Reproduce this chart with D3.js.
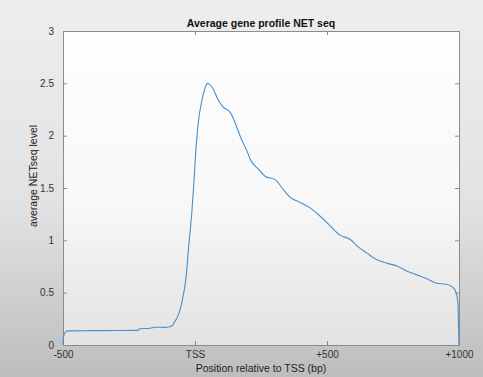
<!DOCTYPE html>
<style>
  html, body { margin: 0; padding: 0; }
  body { width: 483px; height: 377px; overflow: hidden; }
  svg { display: block; font-family: "Liberation Sans", Arial, sans-serif; }
</style>
<body>
</body>
<script src="https://cdn.jsdelivr.net/npm/d3@7/dist/d3.min.js"></script>
<script>
  // position relative to TSS (bp) and average NET-seq level
  const pos = [-500, -499, -496, -490, -480, -400, -300, -215, -210, -170, -150, -120, -95,
    -84, -80, -70, -60, -54, -45, -35, -24, -12, -5, 3, 14, 25, 40, 48, 55, 66, 86, 104, 134, 146,
    172, 199, 210, 240, 267, 304, 330, 361, 400, 436, 470, 500, 549, 587, 617, 650, 693, 730, 769,
    800, 840, 880, 916, 950, 965, 984, 991, 996, 998, 1000];
  const level = [0, 0.06, 0.10, 0.125, 0.135, 0.137, 0.138, 0.14, 0.155, 0.16, 0.17, 0.168, 0.175,
    0.19, 0.21, 0.25, 0.31, 0.36, 0.47, 0.62, 0.94, 1.27, 1.52, 1.85, 2.16, 2.32, 2.47, 2.50, 2.49,
    2.46, 2.35, 2.28, 2.22, 2.16, 1.99, 1.84, 1.77, 1.68, 1.61, 1.58, 1.50, 1.41, 1.36, 1.31, 1.24,
    1.17, 1.05, 1.01, 0.94, 0.88, 0.81, 0.78, 0.75, 0.71, 0.67, 0.63, 0.59, 0.58, 0.57, 0.53, 0.48,
    0.40, 0.2, 0];

  const xTicks = [-500, 0, 500, 1000];
  const xTickLabels = ['-500', 'TSS', '+500', '+1000'];
  const yTicks = [0, 0.5, 1, 1.5, 2, 2.5, 3];

  const W = 483, H = 377;
  const l = 63, r = 459, t = 31, b = 345;

  const svg = d3.select('body').append('svg')
    .attr('width', W)
    .attr('height', H);

  const defs = svg.append('defs');
  const bg = defs.append('linearGradient').attr('id', 'bg')
    .attr('x1', 0).attr('y1', 0).attr('x2', 0).attr('y2', 1);
  bg.append('stop').attr('offset', '0%').attr('stop-color', '#eeeeee');
  bg.append('stop').attr('offset', '55%').attr('stop-color', '#e2e2e2');
  bg.append('stop').attr('offset', '100%').attr('stop-color', '#bdbdbd');
  const pg = defs.append('linearGradient').attr('id', 'pg')
    .attr('x1', 0).attr('y1', 0).attr('x2', 0).attr('y2', 1);
  pg.append('stop').attr('offset', '0%').attr('stop-color', '#fefefe');
  pg.append('stop').attr('offset', '55%').attr('stop-color', '#f8f8f8');
  pg.append('stop').attr('offset', '100%').attr('stop-color', '#e2e2e2');

  svg.append('rect').attr('width', W).attr('height', H).attr('fill', 'url(#bg)');
  svg.append('rect').attr('x', l).attr('y', t).attr('width', r - l).attr('height', b - t)
    .attr('fill', 'url(#pg)');

  const x = d3.scaleLinear().domain([-500, 1000]).range([l, r]);
  const y = d3.scaleLinear().domain([0, 3]).range([b, t]);

  const axisColor = '#8c8c8c';
  function styleAxis(g) {
    g.select('.domain').remove();
    g.selectAll('.tick line').attr('stroke', axisColor);
    g.selectAll('.tick text').attr('fill', '#333').style('font-size', '10px');
  }

  // bottom
  svg.append('g')
    .attr('transform', `translate(0,${b})`)
    .call(d3.axisBottom(x).tickValues(xTicks).tickSizeInner(-4).tickSizeOuter(0)
      .tickPadding(6).tickFormat((d, i) => xTickLabels[i]))
    .call(styleAxis);
  // top
  svg.append('g')
    .attr('transform', `translate(0,${t})`)
    .call(d3.axisTop(x).tickValues(xTicks).tickSizeInner(-4).tickSizeOuter(0).tickFormat(''))
    .call(styleAxis);
  // left
  svg.append('g')
    .attr('transform', `translate(${l},0)`)
    .call(d3.axisLeft(y).tickValues(yTicks).tickSizeInner(-4).tickSizeOuter(0)
      .tickPadding(9).tickFormat(d3.format('')))
    .call(styleAxis);
  // right
  svg.append('g')
    .attr('transform', `translate(${r},0)`)
    .call(d3.axisRight(y).tickValues(yTicks).tickSizeInner(-4).tickSizeOuter(0).tickFormat(''))
    .call(styleAxis);

  svg.append('rect')
    .attr('x', l + 0.5).attr('y', t + 0.5)
    .attr('width', r - l).attr('height', b - t)
    .attr('fill', 'none').attr('stroke', axisColor);

  const line = d3.line()
    .x((d, i) => x(pos[i]))
    .y(d => y(d))
    .curve(d3.curveMonotoneX);

  svg.append('path')
    .datum(level)
    .attr('d', line)
    .attr('fill', 'none')
    .attr('stroke', '#4a8ec8')
    .attr('stroke-width', 1.1);

  svg.append('text')
    .attr('x', (l + r) / 2).attr('y', 27)
    .attr('text-anchor', 'middle')
    .style('font-size', '10.5px').style('font-weight', 'bold')
    .attr('fill', '#111')
    .text('Average gene profile NET seq');

  svg.append('text')
    .attr('x', (l + r) / 2).attr('y', 372)
    .attr('text-anchor', 'middle')
    .style('font-size', '10.5px')
    .attr('fill', '#222')
    .text('Position relative to TSS (bp)');

  svg.append('text')
    .attr('transform', `translate(37,176) rotate(-90)`)
    .attr('text-anchor', 'middle')
    .style('font-size', '10.5px')
    .attr('fill', '#222')
    .text('average NETseq level');
</script>
